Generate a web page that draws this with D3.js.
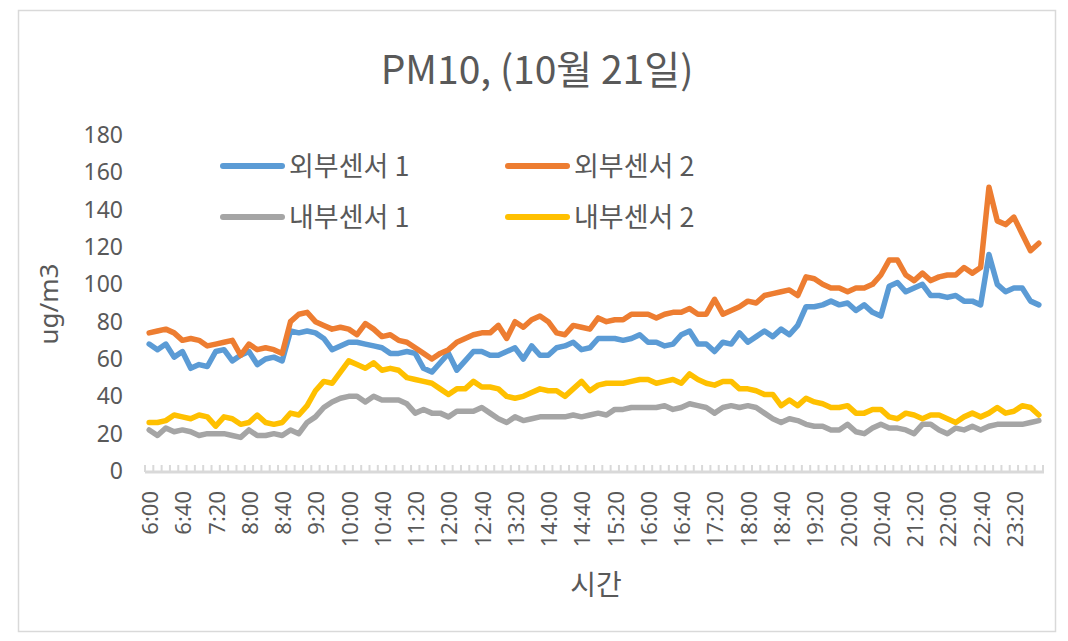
<!DOCTYPE html>
<html>
<head>
<meta charset="utf-8">
<script src="https://cdn.jsdelivr.net/npm/d3@7"></script>
<style>
  html, body { margin: 0; padding: 0; background: #fff; }
  svg { display: block; }
  text { font-family: "Noto Sans CJK KR", "Noto Sans", sans-serif; fill: #595959; }
</style>
</head>
<body>
<svg id="chart" width="1068" height="641"></svg>
<script>
// ---- data ----
const categories = [
  "6:00","6:10","6:20","6:30","6:40","6:50","7:00","7:10","7:20","7:30","7:40","7:50",
  "8:00","8:10","8:20","8:30","8:40","8:50","9:00","9:10","9:20","9:30","9:40","9:50",
  "10:00","10:10","10:20","10:30","10:40","10:50","11:00","11:10","11:20","11:30","11:40","11:50",
  "12:00","12:10","12:20","12:30","12:40","12:50","13:00","13:10","13:20","13:30","13:40","13:50",
  "14:00","14:10","14:20","14:30","14:40","14:50","15:00","15:10","15:20","15:30","15:40","15:50",
  "16:00","16:10","16:20","16:30","16:40","16:50","17:00","17:10","17:20","17:30","17:40","17:50",
  "18:00","18:10","18:20","18:30","18:40","18:50","19:00","19:10","19:20","19:30","19:40","19:50",
  "20:00","20:10","20:20","20:30","20:40","20:50","21:00","21:10","21:20","21:30","21:40","21:50",
  "22:00","22:10","22:20","22:30","22:40","22:50","23:00","23:10","23:20","23:30","23:40","23:50"
];
const outer1 = [68,65,68,61,64,55,57,56,64,65,59,62,64,57,60,61,59,75,74,75,74,71,65,67,
  69,69,68,67,66,63,63,64,63,55,53,58,63,54,59,64,64,62,62,64,66,60,67,62,62,66,67,69,65,66,
  71,71,71,70,71,73,69,69,67,68,73,75,68,68,64,69,68,74,69,72,75,72,76,73,78,88,88,89,91,89,
  90,86,89,85,83,99,101,96,98,100,94,94,93,94,91,91,89,116,100,96,98,98,91,89];
const outer2 = [74,75,76,74,70,71,70,67,68,69,70,62,68,65,66,65,63,80,84,85,80,78,76,77,
  76,73,79,76,72,73,70,69,66,63,60,63,65,69,71,73,74,74,78,71,80,77,81,83,80,74,73,78,77,76,
  82,80,81,81,84,84,84,82,84,85,85,87,84,84,92,84,86,88,91,90,94,95,96,97,94,104,103,100,98,98,
  96,98,98,100,105,113,113,105,102,106,102,104,105,105,109,106,109,152,134,132,136,127,118,122];
const inner1 = [22,19,23,21,22,21,19,20,20,20,19,18,22,19,19,20,19,22,20,26,29,34,37,39,
  40,40,37,40,38,38,38,36,31,33,31,31,29,32,32,32,34,31,28,26,29,27,28,29,29,29,29,30,29,30,
  31,30,33,33,34,34,34,34,35,33,34,36,35,34,31,34,35,34,35,34,31,28,26,28,27,25,24,24,22,22,
  25,21,20,23,25,23,23,22,20,25,25,22,20,23,22,24,22,24,25,25,25,25,26,27];
const inner2 = [26,26,27,30,29,28,30,29,24,29,28,25,26,30,26,25,26,31,30,35,43,48,47,53,
  59,57,55,58,54,55,54,50,49,48,47,44,41,44,44,48,45,45,44,40,39,40,42,44,43,43,40,44,48,43,
  46,47,47,47,48,49,49,47,48,49,47,52,49,47,46,48,48,44,44,43,41,41,35,38,35,39,37,36,34,34,
  35,31,31,33,33,29,28,31,30,28,30,30,28,26,29,31,29,31,34,31,32,35,34,30];
const seriesNames = ["외부센서 1", "외부센서 2", "내부센서 1", "내부센서 2"];
const seriesColors = ["#5b9bd5", "#ed7d31", "#a5a5a5", "#ffc000"];
const yTicks = [0, 20, 40, 60, 80, 100, 120, 140, 160, 180];
const titleText = "PM10, (10월 21일)";
const yTitle = "ug/m3";
const xTitle = "시간";

// ---- drawing ----
const svg = d3.select("#chart");
const W = 1068, H = 641;
const plot = { left: 145, right: 1043, top: 135, bottom: 471 };

svg.append("rect").attr("x", 0).attr("y", 0).attr("width", W).attr("height", H).attr("fill", "#fff");
svg.append("rect").attr("x", 18.5).attr("y", 10.5).attr("width", 1037).attr("height", 621)
  .attr("fill", "none").attr("stroke", "#d9d9d9").attr("stroke-width", 1.5);

const x = d3.scaleBand().domain(categories).range([plot.left, plot.right]).paddingInner(0).paddingOuter(0);
const y = d3.scaleLinear().domain([0, 180]).range([plot.bottom, plot.top]);
const cx = c => x(c) + x.bandwidth() / 2;

// title
svg.append("text").attr("x", 537).attr("y", 84).attr("text-anchor", "middle")
  .attr("font-size", 39).text(titleText);

// y axis labels
const yAxis = d3.axisLeft(y).tickValues(yTicks).tickSize(0).tickPadding(0);
const gy = svg.append("g").attr("transform", `translate(123,0)`).call(yAxis);
gy.select(".domain").remove();
gy.selectAll("text").attr("font-size", 23).attr("fill", "#595959")
  .style("font-family", '"Noto Sans", sans-serif');

// y title
svg.append("text").attr("transform", `translate(58,304) rotate(-90)`)
  .attr("text-anchor", "middle").attr("font-size", 26)
  .style("font-family", '"Noto Sans", sans-serif').text(yTitle);

// x axis line and ticks
const gx = svg.append("g");
gx.append("line").attr("x1", plot.left).attr("x2", plot.right + 1)
  .attr("y1", plot.bottom + 1).attr("y2", plot.bottom + 1)
  .attr("stroke", "#d9d9d9").attr("stroke-width", 3);
const bounds = categories.map(c => x(c)).concat([plot.right]);
gx.selectAll("line.tick").data(bounds).enter().append("line").attr("class", "tick")
  .attr("x1", d => d).attr("x2", d => d)
  .attr("y1", plot.bottom - 6).attr("y2", plot.bottom + 1)
  .attr("stroke", "#d9d9d9").attr("stroke-width", 2);

// x labels
const labelCats = categories.filter((c, i) => i % 4 === 0);
gx.selectAll("text.xl").data(labelCats).enter().append("text").attr("class", "xl")
  .attr("transform", d => `translate(${cx(d) + 1},${plot.bottom + 20}) rotate(-90)`)
  .attr("dy", "0.36em").attr("text-anchor", "end").attr("font-size", 22)
  .style("font-family", '"Noto Sans", sans-serif').text(d => d);

// x title
svg.append("text").attr("x", 596).attr("y", 595).attr("text-anchor", "middle")
  .attr("font-size", 28).text(xTitle);

// lines
const allSeries = [outer1, outer2, inner1, inner2];
const line = d3.line().x((d, i) => cx(categories[i])).y(d => y(d));
const drawOrder = [0, 1, 2, 3];
drawOrder.forEach(k => {
  svg.append("path").datum(allSeries[k]).attr("d", line)
    .attr("fill", "none").attr("stroke", seriesColors[k]).attr("stroke-width", 5.5)
    .attr("stroke-linejoin", "round").attr("stroke-linecap", "round");
});

// legend
const legendPos = [[223, 166], [508, 166], [223, 217], [508, 217]];
seriesNames.forEach((name, k) => {
  const [lx, ly] = legendPos[k];
  svg.append("line").attr("x1", lx).attr("x2", lx + 59).attr("y1", ly).attr("y2", ly)
    .attr("stroke", seriesColors[k]).attr("stroke-width", 6).attr("stroke-linecap", "round");
  svg.append("text").attr("x", lx + 66).attr("y", ly).attr("dy", "0.36em")
    .attr("font-size", 27).text(name);
});
</script>
</body>
</html>
